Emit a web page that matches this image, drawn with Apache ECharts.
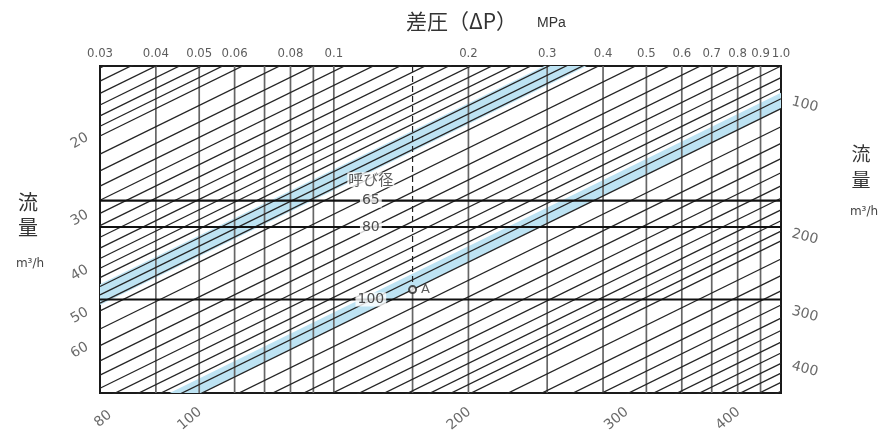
<!DOCTYPE html>
<html><head><meta charset="utf-8">
<script src="https://cdn.jsdelivr.net/npm/echarts@6/dist/echarts.min.js"></script>
<style>html,body{margin:0;padding:0;background:#fff}#c{width:889px;height:437px}</style>
</head><body><div id="c"></div>
<script>
// ΔP axis (MPa), log scale along the top
const dpMin = 0.03, dpMax = 1.0;
// vertical scale: flow equivalent at 1.0 MPa (m3/h), log scale, downward
const capMin = 80, capMax = 444;
const dpTickValues = [0.03,0.04,0.05,0.06,0.08,0.1,0.2,0.3,0.4,0.5,0.6,0.7,0.8,0.9,1.0];
const dpTickLabels = ['0.03','0.04','0.05','0.06','0.08','0.1','0.2','0.3','0.4','0.5','0.6','0.7','0.8','0.9','1.0'];
const dpGridValues = [0.04,0.05,0.06,0.07,0.08,0.09,0.1,0.2,0.3,0.4,0.5,0.6,0.7,0.8,0.9];
// iso-flow lines (m3/h)
const flowLines = [14,15,16,17,18,19,20,22,24,26,28,30,32,34,36,38,40,42,44,46,48,50,55,60,65,70,75,80,85,90,95,100,110,120,130,140,150,160,170,180,190,200,220,240,260,280,300,320,340,360,380,400,420,440];
const flowLabelsLeft = [20,30,40,50,60];
const flowLabelsBottom = [80,100,200,300,400];
const flowLabelsRight = [100,200,300,400];
// shaded flow bands (m3/h)
const bands = [[43.5,48.5],[92,100]];
// nominal sizes (呼び径) and their capacity lines
const nominalSizes = ['65','80','100'];
const nominalCapacity = [162,186,272];
const pointA = {dp: 0.15, flow: 100};

const cap = (q, dp) => q / Math.sqrt(dp);
const chart = echarts.init(document.getElementById('c'));

function seg(data, style, z) {
  return {type:'line', data, symbol:'none', silent:true, animation:false, clip:true, lineStyle:style, z};
}
const series = [];
series.push({
  type:'custom', coordinateSystem:'cartesian2d', clip:true, silent:true, animation:false, z:1,
  data: bands,
  renderItem: (params, api) => {
    const q1 = api.value(0), q2 = api.value(1);
    const pts = [api.coord([dpMin, cap(q1, dpMin)]), api.coord([dpMax, q1]),
                 api.coord([dpMax, q2]), api.coord([dpMin, cap(q2, dpMin)])];
    return {type:'polygon', shape:{points:pts}, style:{fill:'#bde3f3'}};
  }
});
dpGridValues.forEach(v => series.push(seg([[v, capMin],[v, capMax]], {color:'#666', width:1.7}, 2)));
flowLines.forEach(q => series.push(seg([[dpMin, cap(q, dpMin)],[dpMax, q]], {color:'#252525', width:1.3}, 3)));
nominalCapacity.forEach(c => series.push(seg([[dpMin, c],[dpMax, c]], {color:'#111', width:2.2}, 4)));
const capA = cap(pointA.flow, pointA.dp);
series.push(seg([[pointA.dp, capMin],[pointA.dp, capA]], {color:'#222', width:1.2, type:[6,4]}, 4));
series.push(seg([[pointA.dp, capA],[pointA.dp, capMax]], {color:'#666', width:1.7}, 2));

const numFont = {fontFamily:'"Liberation Sans Narrow","DejaVu Sans Condensed","Liberation Sans",sans-serif', fontSize:13, color:'#333'};
const flowFont = {fontFamily:'"DejaVu Sans",sans-serif', fontSize:14, color:'#444'};
function labelScatter(data, label, z) {
  return {type:'scatter', data, symbolSize:1, itemStyle:{color:'rgba(0,0,0,0)'}, silent:true, animation:false, clip:false, z:z||6,
          label:Object.assign({show:true}, label)};
}
series.push(labelScatter(dpTickValues.map(v => [v, capMin]),
  Object.assign({position:'top', distance:5, formatter:p => dpTickLabels[p.dataIndex]}, numFont)));
series.push(labelScatter(flowLabelsLeft.map(q => [dpMin, cap(q, dpMin)]),
  Object.assign({position:'inside', offset:[-20,-6], rotate:30, formatter:p => String(flowLabelsLeft[p.dataIndex])}, flowFont)));
series.push(labelScatter(flowLabelsBottom.map(q => [Math.pow(q / capMax, 2), capMax]),
  Object.assign({position:'inside', offset:[-26,12], rotate:40, formatter:p => String(flowLabelsBottom[p.dataIndex])}, flowFont)));
series.push(labelScatter(flowLabelsRight.map(q => [dpMax, q]),
  Object.assign({position:'inside', offset:[22,-10], rotate:-15, formatter:p => String(flowLabelsRight[p.dataIndex])}, flowFont)));
series.push(labelScatter(nominalCapacity.map(c => [0.121, c]),
  {position:'inside', formatter:p => nominalSizes[p.dataIndex], backgroundColor:'#fff', padding:[0,2],
   fontFamily:'"DejaVu Sans",sans-serif', fontSize:14, color:'#222'}, 7));
series.push(labelScatter([[0.121, nominalCapacity[0]]],
  {position:'inside', offset:[0,-21], formatter:'呼び径', backgroundColor:'#fff', padding:[0,1],
   fontFamily:'"Noto Sans CJK JP",sans-serif', fontSize:15, color:'#333'}, 7));
series.push({type:'scatter', data:[[pointA.dp, capA]], symbol:'emptyCircle', symbolSize:7, clip:false, silent:true, animation:false, z:8,
  itemStyle:{color:'#222', borderWidth:1.2},
  label:{show:true, position:'right', distance:4, formatter:'A', fontFamily:'"DejaVu Sans",sans-serif', fontSize:13, color:'#333'}});

const cjk = '"Noto Sans CJK JP",sans-serif';
chart.setOption({
  backgroundColor:'#fff',
  animation:false,
  grid:{left:100, top:66, width:681, height:327, show:true, borderColor:'#1a1a1a', borderWidth:2, backgroundColor:'transparent'},
  xAxis:{type:'log', logBase:10, min:dpMin, max:dpMax, position:'top',
         axisLine:{show:false}, axisTick:{show:false}, axisLabel:{show:false}, splitLine:{show:false}},
  yAxis:{type:'log', logBase:10, min:capMin, max:capMax, inverse:true,
         axisLine:{show:false}, axisTick:{show:false}, axisLabel:{show:false}, splitLine:{show:false}},
  graphic:[
    {type:'text', x:406, y:21, style:{text:'差圧（ΔP）', font:'21px '+cjk, fill:'#333', textVerticalAlign:'middle'}},
    {type:'text', x:537, y:23, style:{text:'MPa', font:'14px "Liberation Sans Narrow","Liberation Sans",sans-serif', fill:'#333', textVerticalAlign:'middle'}},
    {type:'text', x:28, y:202, style:{text:'流', font:'20px '+cjk, fill:'#333', textAlign:'center', textVerticalAlign:'middle'}},
    {type:'text', x:28, y:227, style:{text:'量', font:'20px '+cjk, fill:'#333', textAlign:'center', textVerticalAlign:'middle'}},
    {type:'text', x:30, y:264, style:{text:'m³/h', font:'12px "DejaVu Sans",sans-serif', fill:'#444', textAlign:'center', textVerticalAlign:'middle'}},
    {type:'text', x:861, y:154, style:{text:'流', font:'19px '+cjk, fill:'#333', textAlign:'center', textVerticalAlign:'middle'}},
    {type:'text', x:861, y:180, style:{text:'量', font:'19px '+cjk, fill:'#333', textAlign:'center', textVerticalAlign:'middle'}},
    {type:'text', x:864, y:212, style:{text:'m³/h', font:'12px "DejaVu Sans",sans-serif', fill:'#444', textAlign:'center', textVerticalAlign:'middle'}}
  ],
  series
});
</script></body></html>
